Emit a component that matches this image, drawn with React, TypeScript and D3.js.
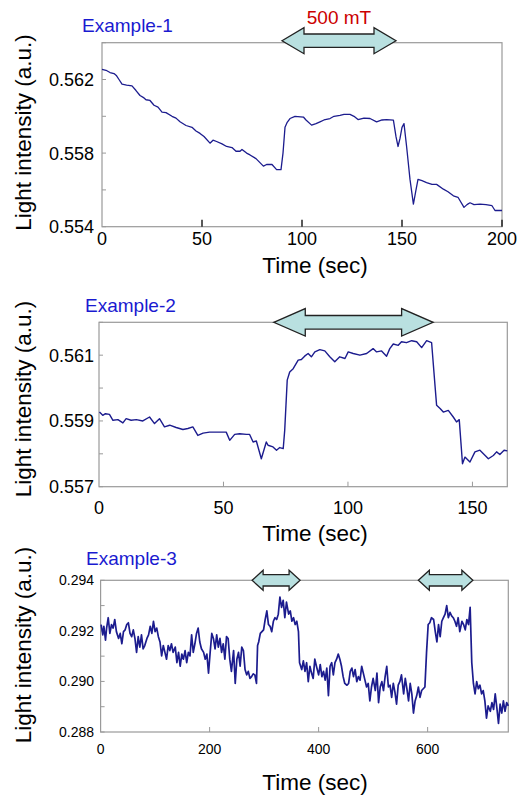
import React from 'react';
import * as d3 from 'd3';

// ---- data ----
const ex1Series: [number, number][] = [
  [0, 0.56255], [2, 0.5625], [4, 0.56238], [6, 0.56232], [7.3, 0.5622], [8.5, 0.562], [10, 0.56175],
  [12.3, 0.5617], [15, 0.56165], [17, 0.5614], [19, 0.56113], [21, 0.561], [22, 0.5609], [24, 0.56086],
  [26, 0.5606], [28, 0.5605], [30, 0.56023], [32, 0.5602], [35, 0.56], [37, 0.5599], [39, 0.5597],
  [42, 0.5595], [45, 0.5594], [47, 0.5592], [49, 0.55907], [51, 0.5589], [54, 0.55854], [55.5, 0.5587],
  [57.3, 0.55863], [60, 0.5585], [62.3, 0.55836], [65, 0.5583], [67, 0.5581], [69, 0.5581], [70, 0.5582],
  [72.3, 0.558], [74, 0.5579], [77, 0.5577], [80.7, 0.55729], [82.3, 0.55738], [85, 0.55738], [87.3, 0.5571],
  [89.5, 0.5571], [90.5, 0.558], [91.5, 0.5594], [92.5, 0.55965], [94, 0.55988], [96.5, 0.56], [100.7, 0.55996],
  [102, 0.5598], [104.8, 0.55952], [107, 0.5596], [109, 0.5597], [111, 0.5598], [114, 0.55988], [116, 0.56],
  [119, 0.56005], [121, 0.5601], [124, 0.5601], [126, 0.56], [128, 0.55982], [131, 0.5599], [134, 0.55988],
  [137.3, 0.5597], [140, 0.5598], [142.3, 0.55982], [145.7, 0.55979], [147, 0.55889], [148, 0.55836],
  [149, 0.5588], [150, 0.5594], [151, 0.5596], [152.3, 0.55836], [154, 0.55657], [155.7, 0.55523],
  [157, 0.556], [158, 0.55657], [160, 0.5565], [162.3, 0.5564], [165, 0.5563], [167.3, 0.5563],
  [170.7, 0.55604], [173, 0.5559], [175.7, 0.55568], [178, 0.5556], [181, 0.55505], [182.5, 0.5552],
  [184, 0.5553], [186, 0.5552], [189, 0.55523], [192, 0.5552], [195, 0.55514], [196.5, 0.55488], [200, 0.55488],
];

const ex2Series: [number, number][] = [
  [0.2, 0.55927], [1.5, 0.55917], [2.6, 0.55922], [4.2, 0.5592], [5.6, 0.55902], [7.6, 0.55904], [9.6, 0.55894],
  [10.9, 0.55907], [12.9, 0.55902], [15, 0.55904], [17.6, 0.559], [20.3, 0.55912], [22.3, 0.55892], [24.3, 0.55907],
  [26.3, 0.55882], [28.4, 0.55887], [31, 0.5588], [33.7, 0.55874], [35.7, 0.55877], [37.7, 0.55882], [39.7, 0.55856],
  [41.8, 0.55863], [44.4, 0.55866], [47.1, 0.55866], [51.1, 0.55866], [52.5, 0.55841], [54.5, 0.55859], [56.5, 0.55861],
  [59.2, 0.55859], [60.5, 0.55859], [61.9, 0.55836], [63.2, 0.55839], [65.2, 0.55785], [67.2, 0.55836], [67.9, 0.55826],
  [69.9, 0.55821], [71.3, 0.55811], [72.6, 0.55819], [74, 0.55816], [74.6, 0.55872], [75.6, 0.56024], [76.6, 0.56049],
  [78, 0.56059], [80, 0.56085], [81.3, 0.56087], [82.6, 0.56097], [84, 0.56105], [85.3, 0.56095], [86.7, 0.5611],
  [88.7, 0.56117], [90.7, 0.56113], [92.7, 0.56095], [94.7, 0.5608], [96.7, 0.56095], [98.8, 0.5609], [100.1, 0.5611],
  [102.1, 0.56105], [104.8, 0.561], [107.5, 0.56105], [110.1, 0.5612], [111.5, 0.5611], [113.5, 0.56113], [115.5, 0.56097],
  [116.8, 0.5612], [118.2, 0.56134], [120.2, 0.5613], [121.5, 0.56141], [123.5, 0.56138], [125.6, 0.56144], [127.6, 0.56141],
  [129.6, 0.56123], [131.6, 0.56144], [133.6, 0.56138], [135, 0.56004], [135.6, 0.55948], [137, 0.55938], [138.3, 0.55927],
  [140.3, 0.55932], [142.3, 0.55912], [143.6, 0.55897], [144.7, 0.55904], [146, 0.5577], [147, 0.5579], [149, 0.55775],
  [151, 0.55806], [153, 0.55811], [156.4, 0.55785], [158.4, 0.55795], [159.7, 0.55806], [161, 0.55798], [162.7, 0.55811],
  [164, 0.55809],
];

const ex3Series: [number, number][] = [
  [1, 0.29225], [4, 0.29184], [6, 0.29218], [9, 0.29163], [11, 0.29211], [14, 0.29252], [17, 0.2919], [20, 0.29225],
  [23, 0.29211], [26, 0.29245], [29, 0.29197], [33, 0.2917], [36, 0.2919], [39, 0.29149], [42, 0.29197], [45, 0.29204],
  [48, 0.29225], [51, 0.29232], [54, 0.2919], [57, 0.29177], [60, 0.29204], [63, 0.2917], [66, 0.29115], [69, 0.29177],
  [72, 0.29136], [75, 0.29184], [78, 0.29129], [81, 0.29142], [85, 0.2917], [88, 0.29184], [91, 0.29218], [94, 0.2919],
  [97, 0.29238], [100, 0.29197], [103, 0.29211], [106, 0.29177], [109, 0.29156], [112, 0.29101], [115, 0.29142],
  [118, 0.29115], [121, 0.29088], [124, 0.29142], [127, 0.29122], [130, 0.29149], [133, 0.29115], [137, 0.29136],
  [140, 0.29074], [143, 0.29115], [146, 0.2906], [149, 0.29108], [152, 0.29088], [155, 0.29122], [158, 0.29074],
  [161, 0.29115], [164, 0.29101], [167, 0.29184], [170, 0.29115], [173, 0.29149], [176, 0.2919], [179, 0.29211],
  [182, 0.29156], [185, 0.29129], [189, 0.29115], [192, 0.29088], [195, 0.29108], [198, 0.29033], [201, 0.29115],
  [204, 0.2919], [207, 0.2917], [210, 0.29129], [213, 0.29184], [216, 0.29136], [219, 0.2917], [222, 0.29115],
  [225, 0.29149], [228, 0.29088], [231, 0.29177], [234, 0.2917], [237, 0.29088], [240, 0.2904], [244, 0.29122],
  [247, 0.28992], [250, 0.29088], [253, 0.29115], [256, 0.2906], [259, 0.29136], [262, 0.29122], [265, 0.29047],
  [268, 0.29026], [271, 0.2904], [274, 0.29012], [277, 0.29019], [280, 0.2903], [283, 0.29026], [286, 0.28992],
  [288, 0.29142], [290, 0.29156], [293, 0.2919], [296, 0.29197], [299, 0.29204], [302, 0.29245], [305, 0.29279],
  [308, 0.29225], [311, 0.29218], [314, 0.29197], [317, 0.29238], [320, 0.29252], [323, 0.29245], [326, 0.29266],
  [329, 0.29334], [332, 0.29293], [335, 0.29321], [338, 0.29252], [341, 0.29314], [345, 0.29266], [348, 0.29279],
  [351, 0.29238], [354, 0.29252], [357, 0.29225], [360, 0.29238], [363, 0.29197], [365, 0.29074], [369, 0.29047],
  [372, 0.29081], [375, 0.2904], [378, 0.29074], [381, 0.28999], [384, 0.2906], [387, 0.29033], [390, 0.29012],
  [393, 0.29088], [396, 0.2906], [400, 0.29026], [403, 0.29067], [406, 0.29019], [409, 0.2904], [412, 0.29005],
  [415, 0.29053], [418, 0.28944], [421, 0.2906], [424, 0.29074], [427, 0.29026], [430, 0.29074], [433, 0.29088],
  [436, 0.29108], [439, 0.29088], [442, 0.2906], [445, 0.29019], [448, 0.28992], [452, 0.28985], [455, 0.28992],
  [458, 0.2904], [461, 0.29053], [464, 0.29019], [467, 0.29047], [470, 0.28999], [473, 0.29019], [476, 0.29005],
  [479, 0.2906], [482, 0.29033], [485, 0.29005], [488, 0.28978], [491, 0.28992], [494, 0.28923], [497, 0.28978],
  [500, 0.29012], [504, 0.28964], [507, 0.29033], [510, 0.28916], [513, 0.28978], [516, 0.28999], [519, 0.28964],
  [522, 0.29019], [525, 0.2906], [528, 0.28978], [531, 0.28985], [534, 0.28937], [537, 0.28992], [540, 0.28958],
  [543, 0.2891], [546, 0.28985], [549, 0.28999], [552, 0.29026], [556, 0.28951], [559, 0.29012], [562, 0.28971],
  [565, 0.28923], [568, 0.28992], [571, 0.28951], [574, 0.28875], [577, 0.28923], [580, 0.28944], [583, 0.28978],
  [586, 0.28937], [589, 0.28964], [592, 0.28971], [595, 0.28978], [598, 0.29115], [601, 0.29225], [604, 0.29232],
  [607, 0.29252], [611, 0.29245], [614, 0.29197], [617, 0.29156], [620, 0.29225], [623, 0.29177], [626, 0.29238],
  [629, 0.29252], [632, 0.29266], [635, 0.293], [638, 0.29252], [641, 0.29273], [644, 0.29259], [647, 0.29252],
  [650, 0.29238], [653, 0.29218], [656, 0.29252], [659, 0.29197], [663, 0.29238], [666, 0.29225], [669, 0.29204],
  [672, 0.29245], [675, 0.29225], [678, 0.29293], [681, 0.29074], [684, 0.28992], [687, 0.28951], [690, 0.28999],
  [693, 0.28971], [696, 0.28985], [699, 0.28951], [702, 0.28964], [705, 0.28923], [708, 0.28855], [711, 0.28903],
  [715, 0.28882], [718, 0.28916], [721, 0.28889], [724, 0.28951], [727, 0.28896], [730, 0.28834], [733, 0.2891],
  [736, 0.28875], [739, 0.28923], [742, 0.28882], [745, 0.28916], [748, 0.28903],
];

// magnetic field on/off intervals (sec)
const ex1Field: [number, number][] = [[90, 147]];
const ex2Field: [number, number][] = [[70.2, 134.2]];
const ex3Field: [number, number][] = [[278, 366], [583, 683]];

const ex1XTicks = [0, 50, 100, 150, 200];
const ex2XTicks = [0, 50, 100, 150];
const ex3XTicks = [0, 200, 400, 600];
const ex1YTicks = [0.554, 0.556, 0.558, 0.56, 0.562, 0.564];
const ex1YLabels = [0.554, 0.558, 0.562];
const ex2YTicks = [0.557, 0.558, 0.559, 0.56, 0.561, 0.562];
const ex2YLabels = [0.557, 0.559, 0.561];
const ex3YTicks = [0.288, 0.289, 0.29, 0.291, 0.292, 0.293, 0.294];
const ex3YLabels = [0.288, 0.29, 0.292, 0.294];

const FONT = '"Liberation Sans", Arial, sans-serif';
const LINE = '#1c1c8e';

type PanelProps = {
  series: [number, number][];
  field: [number, number][];
  xDomain: [number, number];
  yDomain: [number, number];
  box: { left: number; right: number; top: number; bottom: number };
  xTicks: number[];
  yTicks: number[];
  yLabels: number[];
  tickFont: number;
  xLabelY: number;
  titleY: number;
  yTitleY: number;
  name: string;
  nameX: number;
  nameY: number;
  arrow: { dy: number; head: number; shaft: number; len: number };
  lineWidth: number;
  darkXTicks?: boolean;
};

const Panel = (p: PanelProps) => {
  const x = d3.scaleLinear().domain(p.xDomain).range([p.box.left, p.box.right]);
  const y = d3.scaleLinear().domain(p.yDomain).range([p.box.bottom, p.box.top]);
  const line = d3.line<[number, number]>().x(d => x(d[0])).y(d => y(d[1]));
  const fmt = d3.format('.3f');
  const cy = p.box.top + p.arrow.dy;
  const { head, shaft, len } = p.arrow;

  const arrowPath = (a: [number, number]) => {
    const x0 = x(a[0]);
    const x1 = x(a[1]);
    return `M${x0},${cy} L${x0 + len},${cy - head} L${x0 + len},${cy - shaft} L${x1 - len},${cy - shaft} ` +
      `L${x1 - len},${cy - head} L${x1},${cy} L${x1 - len},${cy + head} L${x1 - len},${cy + shaft} ` +
      `L${x0 + len},${cy + shaft} L${x0 + len},${cy + head} Z`;
  };

  return (
    <g fontFamily={FONT}>
      <rect x={p.box.left} y={p.box.top} width={p.box.right - p.box.left} height={p.box.bottom - p.box.top}
        fill="none" stroke="#9a9a9a" strokeWidth={1.2} />
      {p.yTicks.map(t => (
        <line key={'yt' + t} x1={p.box.left} x2={p.box.left + 4} y1={y(t)} y2={y(t)} stroke="#9a9a9a" strokeWidth={1} />
      ))}
      {p.xTicks.slice(1).map(t => (
        <line key={'xt' + t} x1={x(t)} x2={x(t)} y1={p.box.bottom} y2={p.box.bottom - (p.darkXTicks ? 7 : 5)}
          stroke={p.darkXTicks ? '#222' : '#9a9a9a'} strokeWidth={p.darkXTicks ? 1.5 : 1} />
      ))}
      {p.yLabels.map(t => (
        <text key={'yl' + t} x={94} y={y(t)} dy="0.36em" textAnchor="end" fontSize={p.tickFont} fill="#000">{fmt(t)}</text>
      ))}
      {p.xTicks.map(t => (
        <text key={'xl' + t} x={x(t)} y={p.xLabelY} textAnchor="middle" fontSize={p.tickFont} fill="#000">{t}</text>
      ))}
      <path d={line(p.series) || ''} fill="none" stroke={LINE} strokeWidth={p.lineWidth} strokeLinejoin="round" />
      {p.field.map((a, i) => (
        <path key={'ar' + i} d={arrowPath(a)} fill="#b9e0e0" stroke="#222" strokeWidth={1.3} strokeLinejoin="miter" />
      ))}
      <text x={p.nameX} y={p.nameY} fontSize={19} fill="#1a1ad0">{p.name}</text>
      <text x={315} y={p.titleY} textAnchor="middle" fontSize={22.5} fill="#000">Time (sec)</text>
      <text transform={`translate(31,${p.yTitleY}) rotate(-90)`} textAnchor="middle" fontSize={22.5} fill="#000">
        Light intensity (a.u.)
      </text>
    </g>
  );
};

export default function App() {
  return (
    <div style={{ position: 'absolute', left: 0, top: 0, width: 522, height: 795, background: '#fff' }}>
      <svg width={522} height={795} style={{ display: 'block' }}>
        <Panel series={ex1Series} field={ex1Field} xDomain={[0, 200]} yDomain={[0.554, 0.564]}
          box={{ left: 102, right: 502, top: 42.7, bottom: 226.7 }}
          xTicks={ex1XTicks} yTicks={ex1YTicks} yLabels={ex1YLabels} tickFont={18} xLabelY={245}
          titleY={273} yTitleY={132.5} name="Example-1" nameX={82} nameY={32}
          arrow={{ dy: -2, head: 13, shaft: 6.7, len: 22 }} lineWidth={1.3} darkXTicks />
        <text x={339} y={24} textAnchor="middle" fontSize={19} fill="#cc0000" fontFamily={FONT}>500 mT</text>
        <Panel series={ex2Series} field={ex2Field} xDomain={[0, 164]} yDomain={[0.557, 0.562]}
          box={{ left: 99, right: 507.3, top: 322.3, bottom: 486.7 }}
          xTicks={ex2XTicks} yTicks={ex2YTicks} yLabels={ex2YLabels} tickFont={18} xLabelY={513.5}
          titleY={541} yTitleY={399} name="Example-2" nameX={85} nameY={312}
          arrow={{ dy: 0, head: 13.7, shaft: 6.8, len: 31.5 }} lineWidth={1.4} />
        <Panel series={ex3Series} field={ex3Field} xDomain={[0, 748]} yDomain={[0.288, 0.294]}
          box={{ left: 100.6, right: 508.3, top: 580.3, bottom: 732 }}
          xTicks={ex3XTicks} yTicks={ex3YTicks} yLabels={ex3YLabels} tickFont={14} xLabelY={754}
          titleY={790} yTitleY={645} name="Example-3" nameX={86} nameY={565}
          arrow={{ dy: 0, head: 10, shaft: 5.7, len: 11 }} lineWidth={1.7} />
      </svg>
    </div>
  );
}
